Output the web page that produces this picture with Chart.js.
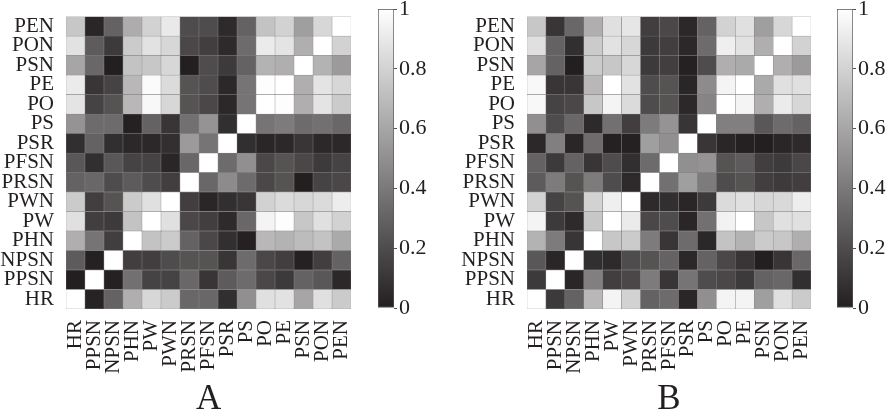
<!DOCTYPE html>
<html>
<head>
<meta charset="utf-8">
<script src="https://cdn.jsdelivr.net/npm/chart.js@4.4.1/dist/chart.umd.min.js"></script>
<style>
  body { margin: 0; background: #fff; }
  #lienzo { position: relative; width: 893px; height: 417px; overflow: hidden; }
  #lienzo canvas { position: absolute; top: 0; }
</style>
</head>
<body>
<div id="lienzo">
  <canvas id="mapaA" width="370" height="417" style="left:0"></canvas>
  <canvas id="barraA" width="66" height="417" style="left:362px"></canvas>
  <canvas id="mapaB" width="369" height="417" style="left:461px"></canvas>
  <canvas id="barraB" width="66" height="417" style="left:821px"></canvas>
</div>
<script>
const etiquetasColumnas = ['HR', 'PPSN', 'NPSN', 'PHN', 'PW', 'PWN', 'PRSN', 'PFSN', 'PSR', 'PS', 'PO', 'PE', 'PSN', 'PON', 'PEN'];
const etiquetasFilas = ['PEN', 'PON', 'PSN', 'PE', 'PO', 'PS', 'PSR', 'PFSN', 'PRSN', 'PWN', 'PW', 'PHN', 'NPSN', 'PPSN', 'HR'];
const marcasBarra = [0, 0.2, 0.4, 0.6, 0.8, 1];

// filas de arriba hacia abajo, columnas en el orden de etiquetasColumnas
const matrizA = [
  [0.75, 0.03, 0.30, 0.63, 0.80, 0.90, 0.20, 0.20, 0.05, 0.30, 0.73, 0.80, 0.57, 0.82, 1.00],
  [0.87, 0.27, 0.12, 0.77, 0.87, 0.82, 0.18, 0.14, 0.05, 0.34, 0.91, 0.88, 0.64, 1.00, 0.80],
  [0.60, 0.32, 0.00, 0.73, 0.75, 0.82, 0.00, 0.20, 0.12, 0.30, 0.66, 0.64, 1.00, 0.66, 0.55],
  [0.91, 0.10, 0.16, 0.68, 0.98, 0.84, 0.23, 0.20, 0.04, 0.38, 0.99, 1.00, 0.64, 0.88, 0.82],
  [0.88, 0.16, 0.23, 0.68, 0.97, 0.82, 0.23, 0.18, 0.04, 0.38, 1.00, 0.99, 0.64, 0.88, 0.77],
  [0.52, 0.34, 0.34, 0.01, 0.30, 0.10, 0.36, 0.52, 0.07, 1.00, 0.38, 0.41, 0.34, 0.36, 0.32],
  [0.07, 0.30, 0.07, 0.04, 0.04, 0.07, 0.55, 0.38, 1.00, 0.07, 0.03, 0.04, 0.10, 0.04, 0.04],
  [0.25, 0.07, 0.25, 0.16, 0.16, 0.03, 0.32, 1.00, 0.34, 0.50, 0.18, 0.23, 0.18, 0.12, 0.16],
  [0.30, 0.32, 0.20, 0.27, 0.20, 0.14, 1.00, 0.32, 0.48, 0.34, 0.18, 0.23, 0.00, 0.16, 0.18],
  [0.77, 0.14, 0.23, 0.77, 0.86, 1.00, 0.14, 0.03, 0.07, 0.10, 0.80, 0.84, 0.82, 0.84, 0.92],
  [0.86, 0.14, 0.12, 0.73, 1.00, 0.86, 0.18, 0.14, 0.05, 0.32, 0.95, 0.99, 0.75, 0.86, 0.80],
  [0.64, 0.38, 0.14, 1.00, 0.73, 0.77, 0.30, 0.18, 0.07, 0.01, 0.68, 0.66, 0.70, 0.73, 0.62],
  [0.27, 0.01, 1.00, 0.14, 0.14, 0.20, 0.23, 0.23, 0.10, 0.34, 0.18, 0.14, 0.01, 0.14, 0.30],
  [0.00, 1.00, 0.01, 0.36, 0.16, 0.16, 0.32, 0.10, 0.27, 0.34, 0.18, 0.12, 0.30, 0.25, 0.04],
  [1.00, 0.02, 0.30, 0.64, 0.82, 0.77, 0.32, 0.32, 0.07, 0.50, 0.86, 0.87, 0.60, 0.86, 0.77]
];

const matrizB = [
  [0.75, 0.10, 0.32, 0.64, 0.86, 0.89, 0.14, 0.18, 0.04, 0.30, 0.80, 0.86, 0.57, 0.82, 1.00],
  [0.86, 0.30, 0.07, 0.77, 0.87, 0.82, 0.12, 0.14, 0.04, 0.34, 0.93, 0.87, 0.64, 1.00, 0.80],
  [0.60, 0.30, 0.00, 0.77, 0.75, 0.82, 0.12, 0.14, 0.01, 0.20, 0.64, 0.62, 1.00, 0.64, 0.55],
  [0.97, 0.10, 0.10, 0.68, 1.00, 0.87, 0.20, 0.23, 0.03, 0.48, 0.95, 1.00, 0.62, 0.86, 0.86],
  [0.97, 0.16, 0.18, 0.75, 0.95, 0.84, 0.20, 0.23, 0.04, 0.45, 1.00, 0.95, 0.64, 0.91, 0.82],
  [0.50, 0.20, 0.32, 0.05, 0.36, 0.14, 0.41, 0.52, 0.10, 1.00, 0.43, 0.43, 0.25, 0.34, 0.30],
  [0.04, 0.43, 0.03, 0.34, 0.01, 0.01, 0.57, 0.50, 1.00, 0.10, 0.03, 0.01, 0.00, 0.03, 0.05],
  [0.30, 0.12, 0.30, 0.10, 0.20, 0.07, 0.34, 1.00, 0.50, 0.52, 0.23, 0.27, 0.14, 0.12, 0.18],
  [0.27, 0.41, 0.23, 0.41, 0.20, 0.05, 1.00, 0.36, 0.57, 0.41, 0.20, 0.23, 0.14, 0.12, 0.14],
  [0.80, 0.16, 0.23, 0.80, 0.93, 1.00, 0.05, 0.07, 0.03, 0.12, 0.84, 0.86, 0.82, 0.83, 0.92],
  [0.95, 0.12, 0.05, 0.75, 1.00, 0.91, 0.18, 0.20, 0.03, 0.36, 0.94, 1.00, 0.75, 0.86, 0.86],
  [0.66, 0.41, 0.10, 1.00, 0.75, 0.77, 0.41, 0.10, 0.34, 0.04, 0.73, 0.66, 0.77, 0.75, 0.64],
  [0.25, 0.03, 1.00, 0.07, 0.05, 0.20, 0.23, 0.30, 0.04, 0.30, 0.18, 0.10, 0.00, 0.10, 0.32],
  [0.12, 1.00, 0.03, 0.43, 0.14, 0.18, 0.41, 0.10, 0.38, 0.20, 0.18, 0.12, 0.30, 0.32, 0.07],
  [1.00, 0.12, 0.30, 0.68, 0.95, 0.80, 0.30, 0.34, 0.03, 0.50, 0.95, 0.95, 0.57, 0.86, 0.77]
];

const fuente = "'Times New Roman', 'Liberation Serif', Times, serif";
const colorTexto = '#231f20';

// escala de grises: 0 casi negro, 1 blanco
function gris(v) {
  const r = Math.round(35 + 220 * v);
  const g = Math.round(31 + 224 * v);
  const b = Math.round(32 + 223 * v);
  return `rgb(${r}, ${g}, ${b})`;
}

// cada fila es un dataset apilado; la de abajo (HR) va primero
function construirDatasets(matriz) {
  const datasets = [];
  for (let f = matriz.length - 1; f >= 0; f--) {
    datasets.push({
      label: etiquetasFilas[f],
      data: matriz[f].map(() => 1),
      backgroundColor: matriz[f].map(v => gris(v)),
      borderColor: '#808080',
      borderWidth: 0.5,
      borderSkipped: false,
      barPercentage: 1,
      categoryPercentage: 1
    });
  }
  return datasets;
}

function crearMapa(id, matriz, letra) {
  return new Chart(document.getElementById(id), {
    type: 'bar',
    data: { labels: etiquetasColumnas, datasets: construirDatasets(matriz) },
    options: {
      responsive: false,
      animation: false,
      layout: { padding: { top: 9, right: 7, left: 0, bottom: 0 } },
      plugins: {
        legend: { display: false },
        tooltip: { enabled: false },
        title: {
          display: true,
          text: letra,
          position: 'bottom',
          fullSize: false,
          color: colorTexto,
          font: { family: fuente, size: 35, weight: 'normal', lineHeight: 1 },
          padding: 0
        }
      },
      scales: {
        x: {
          stacked: true,
          grid: { display: false },
          border: { display: false },
          ticks: {
            autoSkip: false,
            minRotation: 90,
            maxRotation: 90,
            padding: 3,
            color: colorTexto,
            font: { family: fuente, size: 21 }
          },
          afterFit: escala => { escala.height = 73; }
        },
        y: {
          stacked: true,
          min: 0,
          max: etiquetasFilas.length,
          grid: { display: false },
          border: { display: false },
          afterBuildTicks: escala => {
            escala.ticks = etiquetasFilas.map((_, i) => ({ value: i + 0.5 }));
          },
          ticks: {
            autoSkip: false,
            padding: 4,
            color: colorTexto,
            font: { family: fuente, size: 21 },
            callback: (valor, i) => etiquetasFilas[etiquetasFilas.length - 1 - i]
          },
          afterFit: escala => { escala.width = 66; }
        }
      }
    }
  });
}

function crearBarra(id) {
  return new Chart(document.getElementById(id), {
    type: 'bar',
    data: {
      labels: [''],
      datasets: [{
        data: [1],
        backgroundColor: contexto => {
          const area = contexto.chart.chartArea;
          if (!area) return null;
          const degradado = contexto.chart.ctx.createLinearGradient(0, area.bottom, 0, area.top);
          degradado.addColorStop(0, gris(0));
          degradado.addColorStop(1, gris(1));
          return degradado;
        },
        borderColor: '#555',
        borderWidth: 1,
        borderSkipped: false,
        barPercentage: 1,
        categoryPercentage: 1
      }]
    },
    options: {
      responsive: false,
      animation: false,
      layout: { padding: { top: 9, bottom: 109, left: 16, right: 0 } },
      plugins: { legend: { display: false }, tooltip: { enabled: false } },
      scales: {
        x: { display: false },
        y: {
          position: 'right',
          min: 0,
          max: 1,
          afterBuildTicks: escala => {
            escala.ticks = marcasBarra.map(v => ({ value: v }));
          },
          grid: { drawOnChartArea: false, tickLength: 3, color: '#555' },
          border: { display: false },
          ticks: {
            padding: 2,
            color: colorTexto,
            font: { family: fuente, size: 22 },
            callback: valor => String(+valor.toFixed(1))
          },
          afterFit: escala => {
            escala.width = 34;
            escala.paddingTop = 0;
            escala.paddingBottom = 0;
          }
        }
      }
    }
  });
}

crearMapa('mapaA', matrizA, 'A');
crearBarra('barraA');
crearMapa('mapaB', matrizB, 'B');
crearBarra('barraB');
</script>
</body>
</html>
